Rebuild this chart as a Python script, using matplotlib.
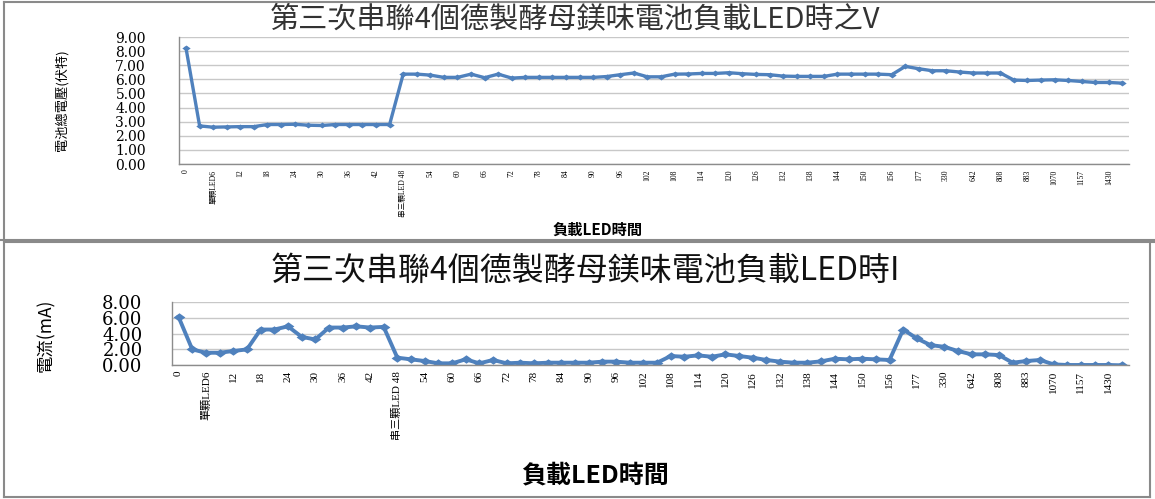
import matplotlib
matplotlib.use("Agg")
import matplotlib.pyplot as plt
from matplotlib.lines import Line2D

plt.rcParams['font.family'] = ['Noto Sans CJK TC', 'DejaVu Sans']

# 橫軸類別（每隔一點標一次）
time_labels = ['0', '單顆LED6', '12', '18', '24', '30', '36', '42', '串三顆LED 48',
               '54', '60', '66', '72', '78', '84', '90', '96', '102', '108', '114',
               '120', '126', '132', '138', '144', '150', '156', '177', '330', '642',
               '808', '883', '1070', '1157', '1430']

# 電池總電壓 (V)
voltage = [8.20,
           2.70, 2.61, 2.63, 2.65, 2.65, 2.80, 2.80, 2.82, 2.75, 2.73,
           2.80, 2.80, 2.80, 2.80, 2.80,
           6.37, 6.37, 6.30, 6.14, 6.14, 6.37, 6.12, 6.37, 6.09,
           6.14, 6.14, 6.14, 6.14, 6.14, 6.14, 6.20, 6.33, 6.45, 6.18,
           6.18, 6.37, 6.38, 6.42, 6.42, 6.47, 6.40, 6.35, 6.33, 6.23,
           6.21, 6.21, 6.21, 6.37, 6.37, 6.37, 6.37, 6.33,
           6.92, 6.75, 6.61, 6.61, 6.52, 6.45, 6.45, 6.45,
           5.95, 5.92, 5.95, 5.97, 5.92, 5.85, 5.78, 5.78, 5.73]

# 電流 (mA)
current = [6.08, 2.00, 1.58, 1.58, 1.80, 2.00, 4.50, 4.50, 4.90, 3.58,
           3.25, 4.75, 4.75, 4.90, 4.75, 4.83, 0.96, 0.75, 0.54, 0.25,
           0.25, 0.75, 0.25, 0.67, 0.25, 0.33, 0.25, 0.33, 0.33, 0.33,
           0.33, 0.46, 0.46, 0.33, 0.33, 0.33, 1.17, 1.08, 1.25, 1.08,
           1.38, 1.17, 0.96, 0.67, 0.46, 0.33, 0.33, 0.50, 0.83, 0.75,
           0.83, 0.75, 0.67, 4.50, 3.38, 2.54, 2.33, 1.80, 1.38, 1.38,
           1.29, 0.33, 0.54, 0.67, 0.12, 0.04, 0.04, 0.04, 0.04, 0.00]

BLUE = '#4F81BD'
GRID = '#C8C8C8'
AXIS = '#8C8C8C'
# 橫向拉寬的菱形點
wide_diamond = [(-1.4, 0), (0, 1), (1.4, 0), (0, -1), (-1.4, 0)]


def style_axes(ax, values, yticks, tick_size, xtick_size, pad_y, lw, ms):
    x = list(range(len(values)))
    ax.plot(x, values, color=BLUE, lw=lw, marker=wide_diamond, ms=ms,
            markeredgewidth=0, solid_joinstyle='miter')
    ax.set_xlim(-0.5, len(values) - 0.5)
    ax.set_ylim(yticks[0], yticks[-1])
    ax.set_yticks(yticks)
    ax.set_yticklabels([f'{v:.2f}' for v in yticks],
                       family=['DejaVu Serif'], fontsize=tick_size)
    ax.set_xticks(x[::2])
    ax.set_xticklabels(time_labels, rotation=90, va='top', ha='center',
                       family=['Liberation Serif', 'Noto Sans CJK TC'], fontsize=xtick_size)
    ax.grid(axis='y', color=GRID, lw=1)
    ax.set_axisbelow(True)
    for side in ['top', 'right']:
        ax.spines[side].set_visible(False)
    for side in ['left', 'bottom']:
        ax.spines[side].set_color(AXIS)
        ax.spines[side].set_linewidth(1)
    ax.tick_params(axis='both', length=0)
    ax.tick_params(axis='y', pad=pad_y)
    ax.tick_params(axis='x', pad=4)


fig = plt.figure(figsize=(11.55, 4.99), dpi=100)

# 上圖：電壓
ax1 = fig.add_axes([0.1552, 0.6713, 0.8225, 0.2545])
style_axes(ax1, voltage, [0, 1, 2, 3, 4, 5, 6, 7, 8, 9], 10, 5.5, 24, 2.4, 6)
ax1.set_ylabel('電池總電壓(伏特)', fontsize=9.5)
ax1.yaxis.set_label_coords(-0.117, 0.5)
ax1.set_xlabel('負載LED時間', fontsize=11, fontweight='bold')
ax1.xaxis.set_label_coords(0.44, -0.457)
fig.text(0.498, 0.962, '第三次串聯4個德製酵母鎂味電池負載LED時之V',
         ha='center', va='center', fontsize=21, color='#333333')

# 下圖：電流
ax2 = fig.add_axes([0.1487, 0.2679, 0.8286, 0.1275])
style_axes(ax2, current, [0, 2, 4, 6, 8], 13, 8, 21, 2.8, 8.5)
ax2.set_ylabel('電流(mA)', fontsize=12.5)
ax2.yaxis.set_label_coords(-0.122, 0.476)
ax2.set_xlabel('負載LED時間', fontsize=18, fontweight='bold')
ax2.xaxis.set_label_coords(0.442, -1.536)
fig.text(0.507, 0.457, '第三次串聯4個德製酵母鎂味電池負載LED時I',
         ha='center', va='center', fontsize=23, color='#111111')

# 兩個圖框的邊線
W, H = 1155, 499
def fig_line(xs, ys):
    fig.add_artist(Line2D([x / W for x in xs], [1 - y / H for y in ys],
                          color='#8A8A8A', lw=1.5))

fig_line([4, 1155], [1.5, 1.5])
fig_line([4, 4], [1.5, 240])
fig_line([0, 1155], [240, 240])
fig_line([4, 4], [242, 497])
fig_line([4, 1150], [497, 497])
fig_line([1150, 1150], [242, 497])
fig_line([4, 1155], [242, 242])

fig.savefig('out.png', dpi=100)
